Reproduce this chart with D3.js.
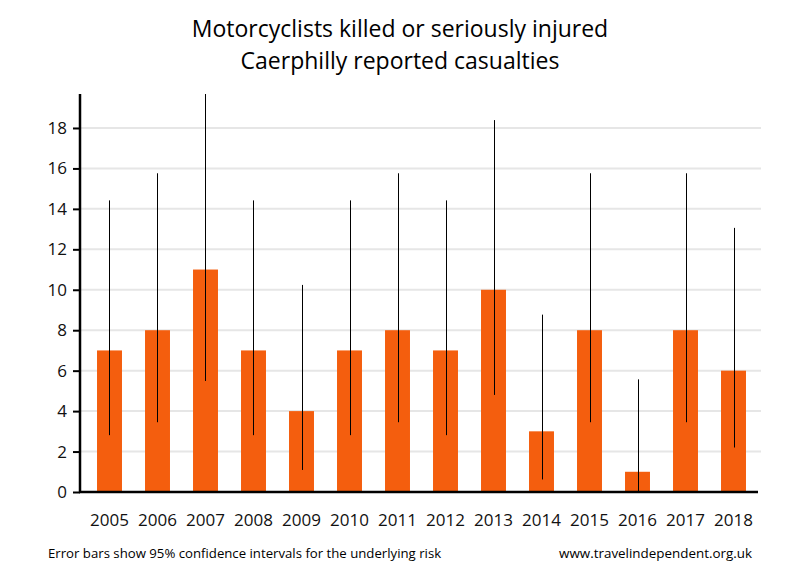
<!DOCTYPE html>
<html><head><meta charset="utf-8">
<script src="https://cdn.jsdelivr.net/npm/d3@7"></script>
<style>body{margin:0;background:#fff}svg{display:block}text{font-family:"Open Sans",sans-serif}</style>
</head><body><svg id="c" width="800" height="580"></svg>
<script>
const years = ["2005","2006","2007","2008","2009","2010","2011","2012","2013","2014","2015","2016","2017","2018"];
const casualties = [7,8,11,7,4,7,8,7,10,3,8,1,8,6];
const lowerCI = [2.81,3.45,5.49,2.81,1.09,2.81,3.45,2.81,4.80,0.62,3.45,0.03,3.45,2.20];
const upperCI = [14.42,15.76,19.68,14.42,10.24,14.42,15.76,14.42,18.39,8.77,15.76,5.57,15.76,13.06];
const yTicks = [0,2,4,6,8,10,12,14,16,18];

const svg = d3.select("#c");
const x = d3.scaleBand().domain(years).range([85.5,757.5]).paddingInner(0.48).paddingOuter(0.24);
const y = d3.scaleLinear().domain([0,19.68]).range([492,94]);

// gridlines
svg.append("g").selectAll("line").data(yTicks.filter(d=>d>0)).join("line")
  .attr("x1",80).attr("x2",761).attr("y1",d=>y(d)).attr("y2",d=>y(d))
  .attr("stroke","#e6e6e6").attr("stroke-width",2);

// bars
svg.append("g").selectAll("rect").data(years).join("rect")
  .attr("x",d=>x(d)).attr("width",x.bandwidth())
  .attr("y",(d,i)=>y(casualties[i])).attr("height",(d,i)=>y(0)-y(casualties[i]))
  .attr("fill","#f45e0e");

// error bars
svg.append("g").selectAll("line").data(years).join("line")
  .attr("x1",d=>Math.round(x(d)+x.bandwidth()/2)+0.5).attr("x2",d=>Math.round(x(d)+x.bandwidth()/2)+0.5)
  .attr("y1",(d,i)=>y(lowerCI[i])).attr("y2",(d,i)=>y(upperCI[i]))
  .attr("stroke","#000").attr("stroke-width",1);

// y axis
const ya = d3.axisLeft(y).tickValues(yTicks).tickSize(7).tickPadding(6);
const gy = svg.append("g").attr("transform","translate(80,0)").call(ya);
gy.select(".domain").remove();
gy.selectAll(".tick line").attr("stroke","#000").attr("stroke-width",2);
gy.selectAll(".tick text").attr("font-size",17).attr("font-family","Open Sans, sans-serif").attr("fill","#111");
svg.append("line").attr("x1",80).attr("x2",80).attr("y1",y.range()[1]).attr("y2",y(0)+1)
  .attr("stroke","#000").attr("stroke-width",2.5);
// baseline
svg.append("line").attr("x1",79).attr("x2",758).attr("y1",y(0)).attr("y2",y(0))
  .attr("stroke","#000").attr("stroke-width",2.5);

// x labels
const xa = d3.axisBottom(x).tickSize(0).tickPadding(22);
const gx = svg.append("g").attr("transform","translate(0,"+y(0)+")").call(xa);
gx.select(".domain").remove();
gx.selectAll(".tick text").attr("font-size",17).attr("font-family","Open Sans, sans-serif").attr("fill","#111");

// title
svg.append("text").attr("x",400).attr("y",37).attr("text-anchor","middle").attr("font-size",23).attr("fill","#000")
  .text("Motorcyclists killed or seriously injured");
svg.append("text").attr("x",400).attr("y",69).attr("text-anchor","middle").attr("font-size",23).attr("fill","#000")
  .text("Caerphilly reported casualties");

// footer
svg.append("text").attr("x",48).attr("y",558).attr("font-size",13.2).attr("fill","#000")
  .text("Error bars show 95% confidence intervals for the underlying risk");
svg.append("text").attr("x",752).attr("y",558).attr("text-anchor","end").attr("font-size",13.4).attr("fill","#000")
  .text("www.travelindependent.org.uk");
</script></body></html>
